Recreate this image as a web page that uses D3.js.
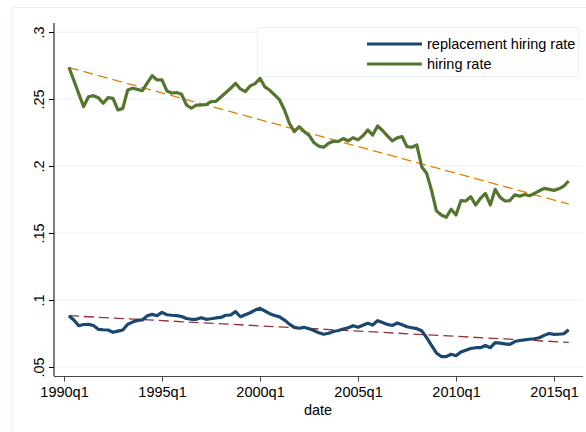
<!DOCTYPE html>
<html><head><meta charset="utf-8">
<script src="https://cdn.jsdelivr.net/npm/d3@7"></script>
<style>body{margin:0;background:#fff}svg{display:block;font-family:"Liberation Sans",Arial,sans-serif}</style>
</head><body><svg id="c" width="586" height="432"></svg>
<script>
// quarters: index 0 = 1990q1
const startQuarter = 1; // first observation 1990q2
const hiringRate = [.2737,.264,.254,.2443,.2517,.2525,.251,.2468,.251,.2505,.2418,.243,.2567,.258,.2572,.2562,.262,.2674,.2642,.2642,.256,.2545,.2548,.2535,.2455,.2431,.2455,.2455,.2458,.248,.2482,.2515,.2547,.258,.2617,.2575,.2555,.2598,.2615,.2654,.259,.2565,.253,.2493,.2418,.2319,.2256,.2293,.2258,.223,.2175,.2148,.214,.217,.2185,.2183,.2205,.2187,.2211,.2195,.2225,.2269,.2231,.2299,.2265,.2225,.2187,.221,.222,.2144,.214,.2157,.1995,.1946,.182,.1665,.1634,.1617,.1677,.1634,.1741,.1739,.1771,.1709,.1759,.1796,.1709,.1826,.1766,.1739,.1742,.1785,.1775,.1787,.1778,.1795,.1815,.1833,.1826,.1818,.183,.185,.1888];
const replacementRate = [.0883,.0851,.0808,.0817,.0818,.081,.0781,.0778,.0776,.0759,.0768,.0776,.0819,.0835,.0848,.0851,.0883,.0893,.0883,.0908,.089,.0886,.0883,.0877,.0862,.0856,.0856,.0868,.0856,.086,.0866,.087,.0886,.0888,.0913,.0875,.089,.0905,.0925,.0938,.0918,.0898,.0885,.0874,.085,.082,.0796,.0789,.0796,.0785,.0772,.0755,.0744,.0752,.0765,.0772,.0783,.0793,.0808,.0796,.0812,.0826,.0813,.0846,.0832,.0818,.081,.0828,.0815,.08,.0793,.0786,.077,.072,.0662,.0605,.0578,.0577,.0595,.0584,.0612,.0625,.0638,.0644,.0644,.066,.0644,.0682,.0678,.0672,.0669,.069,.0698,.0702,.0707,.0711,.0718,.0736,.075,.0744,.0745,.0748,.0778];
const hiringTrend = [.2735,.1716];       // fitted values at first and last quarter
const replacementTrend = [.0883,.0684];
const yTicks = [.05,.1,.15,.2,.25,.3];
const yTickLabels = [".05",".1",".15",".2",".25",".3"];
const xTicks = [0,20,40,60,80,100];
const xTickLabels = ["1990q1","1995q1","2000q1","2005q1","2010q1","2015q1"];
const legendLabels = ["replacement hiring rate","hiring rate"];

const FS = 14.5;
const svg = d3.select("#c");
const x = d3.scaleLinear().domain([0,20]).range([64,162]);
const y = d3.scaleLinear().domain([.05,.3]).range([367,32]);
const lastQ = startQuarter + hiringRate.length - 1;

// outer frame
svg.append("rect").attr("x",12.5).attr("y",7.5).attr("width",600).attr("height",460)
  .attr("fill","none").attr("stroke","#eaf2f3").attr("stroke-width",1);

// gridlines
svg.append("g").selectAll("line").data(yTicks).join("line")
  .attr("x1",54).attr("x2",583).attr("y1",d=>y(d)).attr("y2",d=>y(d))
  .attr("stroke","#eaf2f3").attr("stroke-width",1);

// y axis
const ya = svg.append("g").attr("transform","translate(54,0)")
  .call(d3.axisLeft(y).tickValues(yTicks).tickFormat((d,i)=>yTickLabels[i]).tickSize(5).tickPadding(4));
ya.select(".domain").attr("d","M0,23V376").attr("stroke","#000");
ya.selectAll(".tick line").attr("stroke","#000");
ya.selectAll(".tick text").attr("font-size",FS).attr("fill","#000")
  .attr("transform","rotate(-90)").attr("x",0).attr("y",-10).attr("dy","0").attr("text-anchor","middle");

// x axis
const xa = svg.append("g").attr("transform","translate(0,376.5)")
  .call(d3.axisBottom(x).tickValues(xTicks).tickFormat((d,i)=>xTickLabels[i]).tickSize(5).tickPadding(5));
xa.select(".domain").attr("d","M54,0H583").attr("stroke","#444");
xa.selectAll(".tick line").attr("stroke","#444");
xa.selectAll(".tick text").attr("font-size",FS).attr("fill","#000");
svg.append("text").attr("x",318).attr("y",415).attr("text-anchor","middle")
  .attr("font-size",FS).attr("fill","#000").text("date");

// trend lines
const trendLine = (vals,color)=> svg.append("line")
  .attr("x1",x(startQuarter)).attr("y1",y(vals[0])).attr("x2",x(lastQ)).attr("y2",y(vals[1]))
  .attr("stroke",color).attr("stroke-width",1.3).attr("stroke-dasharray","10,5");
trendLine(hiringTrend,"#e37e00");
trendLine(replacementTrend,"#90353b");

// series
const line = d3.line().x((d,i)=>x(startQuarter+i)).y(d=>y(d)).curve(d3.curveLinear);
svg.append("path").datum(hiringRate).attr("d",line).attr("fill","none")
  .attr("stroke","#55752f").attr("stroke-width",3.2).attr("stroke-linejoin","round");
svg.append("path").datum(replacementRate).attr("d",line).attr("fill","none")
  .attr("stroke","#1a476f").attr("stroke-width",3.2).attr("stroke-linejoin","round");

// legend
svg.append("rect").attr("x",257.5).attr("y",27.5).attr("width",321).attr("height",49)
  .attr("fill","#fff").attr("stroke","#eaf2f3");
const legColors = ["#1a476f","#55752f"];
legendLabels.forEach((t,i)=>{
  const ly = 44 + i*20;
  svg.append("line").attr("x1",367).attr("x2",422).attr("y1",ly).attr("y2",ly)
    .attr("stroke",legColors[i]).attr("stroke-width",3.2);
  svg.append("text").attr("x",427).attr("y",ly+5).attr("font-size",FS).attr("fill","#000").text(t);
});
</script></body></html>
